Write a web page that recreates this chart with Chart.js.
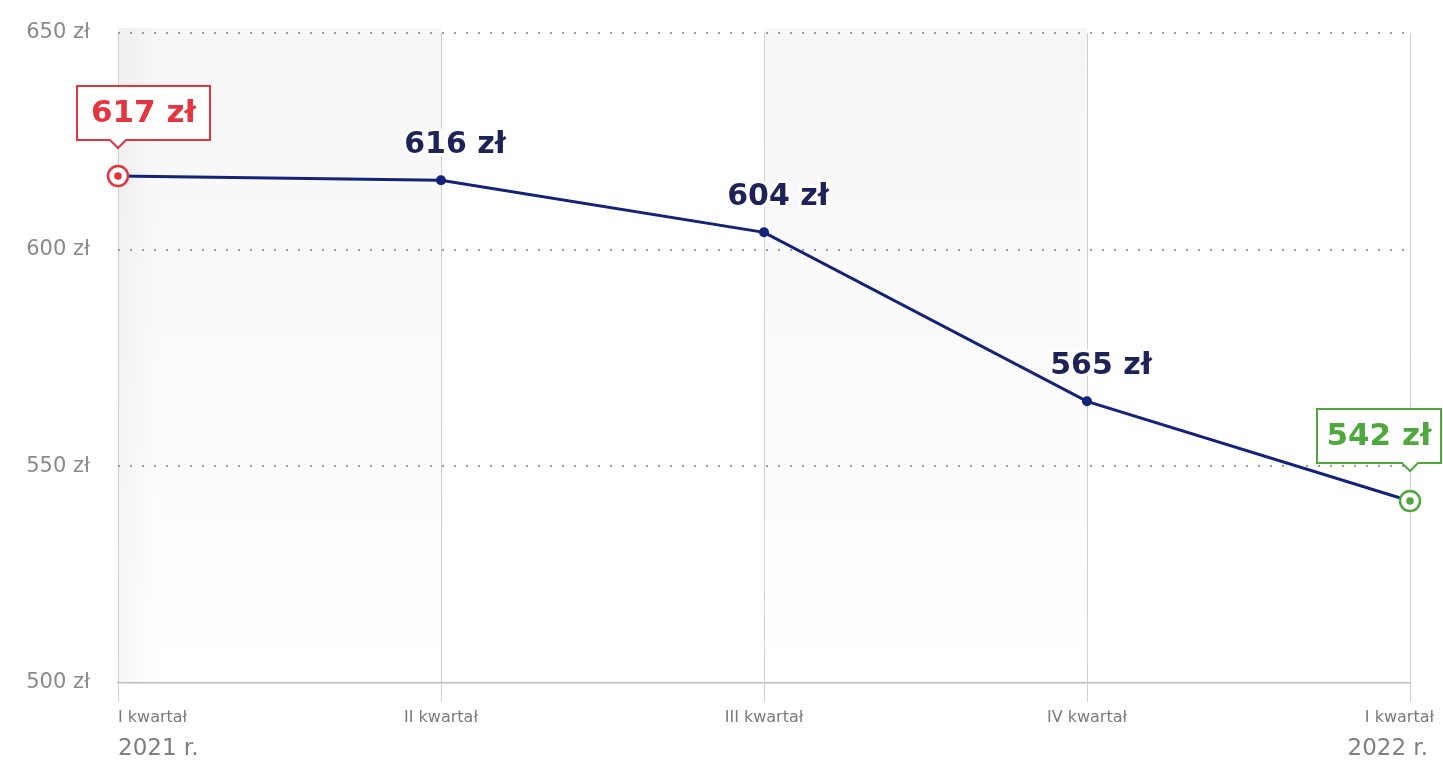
<!DOCTYPE html>
<html lang="pl">
<head>
  <meta charset="UTF-8" />
  <title>Koszt kwartalny</title>
  <style>
    html, body { margin: 0; padding: 0; background: #fff; }
    #wrap { width: 1443px; height: 766px; position: relative; }
  </style>
</head>
<body>
  <div id="wrap"><canvas id="costChart"></canvas></div>

  <script src="https://cdn.jsdelivr.net/npm/chart.js"></script>
  <script>
    // data
    const quarters = ['I kwartał', 'II kwartał', 'III kwartał', 'IV kwartał', 'I kwartał'];
    const years = ['2021 r.', '', '', '', '2022 r.'];
    const prices = [617, 616, 604, 565, 542];
    const yTicks = [500, 550, 600, 650];

    const NAVY = '#13237a';
    const LABEL = '#1d2359';
    const RED = '#e5343e';
    const GREEN = '#4fa83d';

    function callout(ctx, px, box, color, text) {
      ctx.save();
      ctx.beginPath();
      ctx.moveTo(box.left, box.top);
      ctx.lineTo(box.right, box.top);
      ctx.lineTo(box.right, box.bottom);
      ctx.lineTo(px + 8, box.bottom);
      ctx.lineTo(px, box.bottom + 8);
      ctx.lineTo(px - 8, box.bottom);
      ctx.lineTo(box.left, box.bottom);
      ctx.closePath();
      ctx.fillStyle = '#fff';
      ctx.fill();
      ctx.lineWidth = 2;
      ctx.strokeStyle = color;
      ctx.stroke();
      ctx.fillStyle = color;
      ctx.font = 'bold 31px "DejaVu Sans"';
      ctx.textAlign = 'center';
      ctx.textBaseline = 'middle';
      ctx.fillText(text, (box.left + box.right) / 2, (box.top + box.bottom) / 2 + 1);
      ctx.restore();
    }

    function marker(ctx, x, y, color) {
      ctx.save();
      ctx.beginPath();
      ctx.arc(x, y, 10, 0, Math.PI * 2);
      ctx.fillStyle = '#fff';
      ctx.fill();
      ctx.lineWidth = 2.5;
      ctx.strokeStyle = color;
      ctx.stroke();
      ctx.beginPath();
      ctx.arc(x, y, 3.8, 0, Math.PI * 2);
      ctx.fillStyle = color;
      ctx.fill();
      ctx.restore();
    }

    const decor = {
      id: 'decor',
      beforeDraw(chart) {
        const { ctx, chartArea: a, scales: { x } } = chart;
        ctx.save();
        [0, 2].forEach(i => {
          const x0 = x.getPixelForValue(i);
          const x1 = x.getPixelForValue(i + 1);
          const g = ctx.createLinearGradient(0, a.top, 0, a.bottom);
          g.addColorStop(0, '#f6f6f6');
          g.addColorStop(1, '#ffffff');
          ctx.fillStyle = g;
          ctx.fillRect(x0, a.top - 5, x1 - x0, a.bottom - a.top + 5);
        });
        // softer shade next to the first line
        const x0 = x.getPixelForValue(0);
        const e = ctx.createLinearGradient(x0, 0, x0 + 40, 0);
        e.addColorStop(0, 'rgba(0,0,0,0.03)');
        e.addColorStop(1, 'rgba(0,0,0,0)');
        ctx.fillStyle = e;
        ctx.fillRect(x0, a.top - 5, 40, a.bottom - a.top + 5);
        ctx.restore();
      },
      afterDatasetsDraw(chart) {
        const { ctx } = chart;
        const pts = chart.getDatasetMeta(0).data;
        const last = pts.length - 1;

        ctx.save();
        ctx.font = 'bold 30px "DejaVu Sans"';
        ctx.textAlign = 'center';
        ctx.textBaseline = 'bottom';
        ctx.lineJoin = 'round';
        for (let i = 1; i < last; i++) {
          const p = pts[i];
          const t = prices[i] + ' zł';
          ctx.lineWidth = 6;
          ctx.strokeStyle = '#fff';
          ctx.strokeText(t, p.x + 14, p.y - 20);
          ctx.fillStyle = LABEL;
          ctx.fillText(t, p.x + 14, p.y - 20);
        }
        ctx.restore();

        const p0 = pts[0];
        marker(ctx, p0.x, p0.y, RED);
        callout(ctx, p0.x, { left: p0.x - 41, right: p0.x + 92, top: p0.y - 90, bottom: p0.y - 36 }, RED, prices[0] + ' zł');

        const pl = pts[last];
        marker(ctx, pl.x, pl.y, GREEN);
        callout(ctx, pl.x, { left: pl.x - 93, right: pl.x + 31, top: pl.y - 92, bottom: pl.y - 38 }, GREEN, prices[last] + ' zł');
      },
      afterDraw(chart) {
        const { ctx, chartArea: a, scales: { x } } = chart;
        const last = quarters.length - 1;
        ctx.save();
        ctx.textBaseline = 'middle';
        quarters.forEach((q, i) => {
          const px = x.getPixelForValue(i);
          let align = 'center', tx = px;
          if (i === 0) { align = 'left'; }
          if (i === last) { align = 'right'; tx = px + 24; }
          ctx.textAlign = align;
          ctx.fillStyle = '#7a7a7a';
          ctx.font = '16px "DejaVu Sans"';
          ctx.fillText(q, tx, a.bottom + 35);
          if (years[i]) {
            ctx.fillStyle = '#808080';
            ctx.font = '23px "DejaVu Sans"';
            ctx.fillText(years[i], i === last ? px + 18 : px, a.bottom + 66);
          }
        });
        ctx.restore();
      }
    };

    const ctx = document.getElementById('costChart').getContext('2d');
    new Chart(ctx, {
      type: 'line',
      data: {
        labels: quarters,
        datasets: [{
          data: prices,
          borderColor: NAVY,
          borderWidth: 3,
          tension: 0,
          fill: false,
          pointRadius: c => (c.dataIndex === 0 || c.dataIndex === prices.length - 1) ? 0 : 5,
          pointBackgroundColor: NAVY,
          pointBorderWidth: 0,
          pointHoverRadius: 5
        }]
      },
      options: {
        responsive: true,
        maintainAspectRatio: false,
        animation: false,
        layout: { padding: { top: 33, right: 33, left: 0, bottom: 0 } },
        plugins: {
          legend: { display: false },
          tooltip: { enabled: false }
        },
        scales: {
          x: {
            type: 'category',
            offset: false,
            ticks: { display: false },
            grid: {
              color: '#d0d0d0',
              lineWidth: 1,
              drawTicks: true,
              tickLength: 19,
              tickColor: '#d0d0d0'
            },
            border: { display: true, color: '#bdbdbd', width: 1.5 },
            afterFit: s => { s.height = 83; }
          },
          y: {
            min: yTicks[0],
            max: yTicks[yTicks.length - 1],
            afterBuildTicks: s => { s.ticks = yTicks.map(v => ({ value: v })); },
            ticks: {
              padding: 0,
              color: '#8a8a8a',
              font: { family: 'DejaVu Sans', size: 21 },
              callback: v => v + ' zł'
            },
            grid: {
              drawTicks: true,
              tickLength: 28,
              tickColor: 'rgba(0,0,0,0)',
              lineWidth: 2,
              color: c => c.tick && c.tick.value === yTicks[0] ? 'rgba(0,0,0,0)' : '#9c9c9c'
            },
            border: { display: false, dash: [2, 10] },
            afterFit: s => { s.width = 118; }
          }
        }
      },
      plugins: [decor]
    });
  </script>
</body>
</html>
